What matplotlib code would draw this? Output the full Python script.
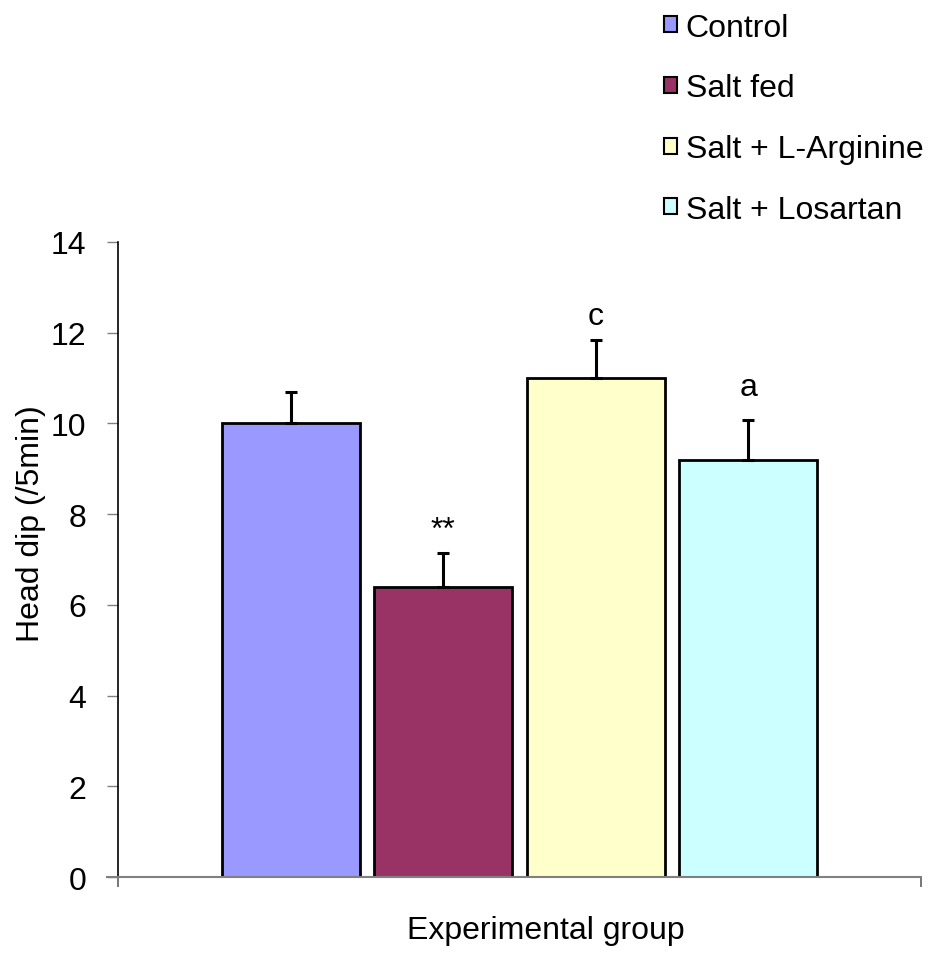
import matplotlib
matplotlib.use("Agg")
import matplotlib.pyplot as plt
from matplotlib.patches import Patch

plt.rcParams['font.family'] = ['Liberation Sans', 'DejaVu Sans']

groups = ["Control", "Salt fed", "Salt + L-Arginine", "Salt + Losartan"]
means = [10.0, 6.4, 11.0, 9.2]
errors = [0.7, 0.75, 0.83, 0.87]
marks = ["", "**", "c", "a"]
colors = ["#9999FF", "#993366", "#FFFFCC", "#CCFFFF"]
yticks = [0, 2, 4, 6, 8, 10, 12, 14]

# styling: vertical offset (points) of significance marks above error caps
mark_offsets = [0, 11, 11.5, 18]

FS = 23
fig = plt.figure(figsize=(9.33, 9.54), dpi=100)
ax = fig.add_axes([118/933, 1-878/954, 803/933, 635/954])

xpos = list(range(len(groups)))
ax.bar(xpos, means, width=0.905, color=colors, edgecolor="black",
       linewidth=2, zorder=2)
ax.errorbar(xpos, means, yerr=[[0]*4, errors], fmt="none", ecolor="black",
            elinewidth=2.2, capsize=4.5, capthick=2.2, zorder=3)
for x, m, e, t, off in zip(xpos, means, errors, marks, mark_offsets):
    if t:
        ax.annotate(t, (x, m + e), xytext=(0, off), textcoords="offset points",
                    ha="center", va="baseline", fontsize=FS)

xl, xr = -1.134, 4.134
ax.set_xlim(xl, xr)
ax.set_ylim(0, 14)
ax.set_yticks(yticks)
ax.set_yticklabels([str(v) for v in yticks], fontsize=FS)
ax.tick_params(axis="y", length=8, width=1, color="#808080", pad=15)
ax.set_xticks([xl, xr])
ax.set_xticklabels(["", ""])
ax.tick_params(axis="x", length=7, width=1.2, color="#606060")
ax.spines["top"].set_visible(False)
ax.spines["right"].set_visible(False)
ax.spines["left"].set_color("black")
ax.spines["left"].set_linewidth(1.2)
ax.spines["bottom"].set_color("#808080")
ax.spines["bottom"].set_linewidth(1.5)
ax.spines["bottom"].set_bounds(xl - 11/152.5, xr)

ax.set_ylabel("Head dip (/5min)", fontsize=FS, va="center")
ax.yaxis.set_label_coords(-(118-31)/803, (878-524)/635)
ax.set_xlabel("Experimental group", fontsize=FS, va="center")
ax.xaxis.set_label_coords((546-118)/803, -(931-878)/635)

handles = [Patch(facecolor=c, edgecolor="black", linewidth=1.5) for c in colors]
fig.legend(handles, groups, loc="upper left", bbox_to_anchor=(651/933, 1-1/954),
           frameon=False, fontsize=FS, handlelength=0.4, handleheight=0.4,
           handletextpad=0.28, labelspacing=0.96, borderaxespad=0)

fig.savefig("out.png", dpi=100)
